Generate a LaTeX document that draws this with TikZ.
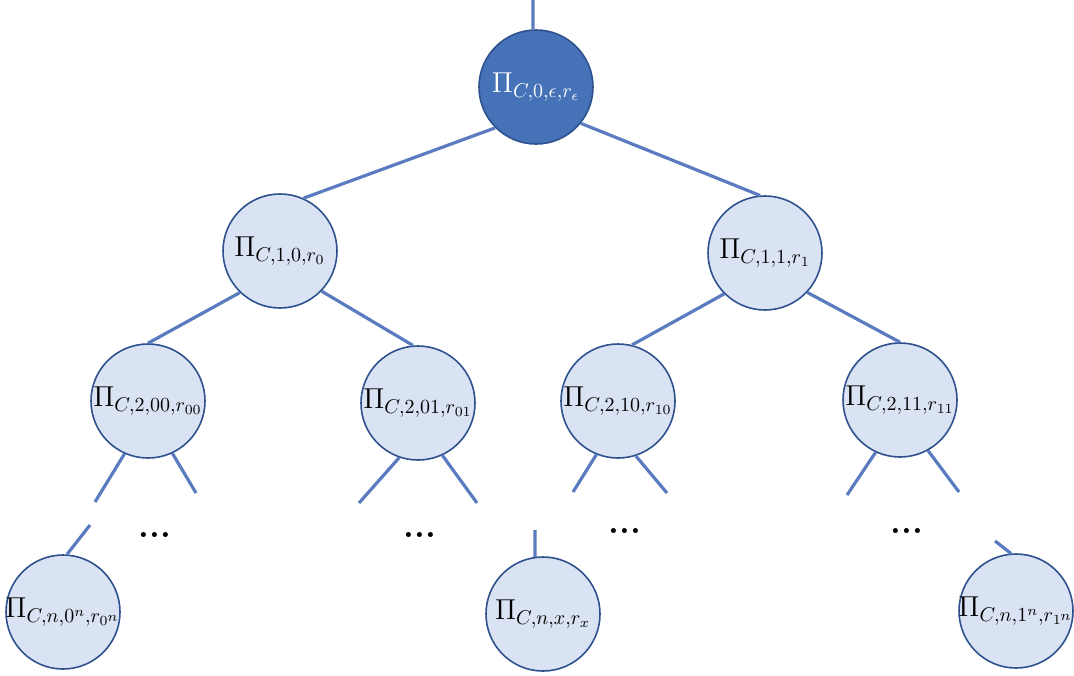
\documentclass[tikz,border=0pt]{standalone}
\usepackage{amsmath, amsfonts, amssymb}
\usepackage{xcolor}
\usepackage{tikz}

\definecolor{rootblue}{HTML}{4672B8}
\definecolor{nodefill}{HTML}{DAE3F3}
\definecolor{nodeline}{HTML}{2F528F}
\definecolor{edgeblue}{HTML}{5B7BC0}

\begin{document}
\begin{tikzpicture}[x=0.5pt, y=-0.5pt,
	party/.style={circle, draw=nodeline, line width=0.8pt, fill=nodefill, minimum size=57pt, inner sep=0pt},
	rootparty/.style={party, fill=rootblue},
	edge/.style={color=edgeblue, line width=1.6pt},
	lbl/.style={font=\Large, inner sep=0pt},
	dots/.style={font=\LARGE\bfseries, inner sep=0pt}]

\useasboundingbox (0,0) rectangle (1074,675);

% root
\node[rootparty, label={[lbl, text=white]center:$\Pi_{C,0,\epsilon,r_\epsilon}$}] (root) at (536,87) {};

% level 1
\node[party, label={[lbl]center:$\Pi_{C,1,0,r_0}$}] (n0) at (280,251) {};
\node[party, label={[lbl]center:$\Pi_{C,1,1,r_1}$}] (n1) at (765,253) {};

% level 2
\node[party, label={[lbl]center:$\Pi_{C,2,00,r_{00}}$}] (n00) at (148,401) {};
\node[party, label={[lbl]center:$\Pi_{C,2,01,r_{01}}$}] (n01) at (418,403) {};
\node[party, label={[lbl]center:$\Pi_{C,2,10,r_{10}}$}] (n10) at (618,401) {};
\node[party, label={[lbl]center:$\Pi_{C,2,11,r_{11}}$}] (n11) at (900,400) {};

% level n
\node[party, label={[lbl]center:$\Pi_{C,n,0^n,r_{0^n}}$}] (nfirst) at (63,612) {};
\node[party, label={[lbl]center:$\Pi_{C,n,x,r_x}$}] (nx) at (543,614) {};
\node[party, label={[lbl]center:$\Pi_{C,n,1^n,r_{1^n}}$}] (nlast) at (1016,611) {};

% dots
\node[dots] (d00) at (155,535) {...};
\node[dots] (d01) at (420,535) {...};
\node[dots] (d10) at (625,531) {...};
\node[dots] (d11) at (907,531) {...};

% edges between parties
\draw[edge] (root.225)--(n0.66);
\draw[edge] (root.321)--(n1.95);
\draw[edge] (n0.226)--(n00.90);
\draw[edge] (n0.316)--(n01.95);
\draw[edge] (n1.225)--(n10.76);
\draw[edge] (n1.317)--(n11.90);

% loose ends
\coordinate (top) at (533,0);
\coordinate (s00a) at (95,502);
\coordinate (s00b) at (196,493);
\coordinate (s01a) at (359,503);
\coordinate (s01b) at (477,503);
\coordinate (s10a) at (573,492);
\coordinate (s10b) at (667,493);
\coordinate (s11a) at (847,495);
\coordinate (s11b) at (959,492);
\coordinate (sfirst) at (90,525);
\coordinate (sx) at (535,530);
\coordinate (slast) at (995,541);

\draw[edge] (root.93)--(top);
\draw[edge] (n00.246)--(s00a);
\draw[edge] (n00.295)--(s00b);
\draw[edge] (n01.251)--(s01a);
\draw[edge] (n01.295)--(s01b);
\draw[edge] (n10.248)--(s10a);
\draw[edge] (n10.288)--(s10b);
\draw[edge] (n11.245)--(s11a);
\draw[edge] (n11.299)--(s11b);
\draw[edge] (nfirst.86)--(sfirst);
\draw[edge] (nx.98)--(sx);
\draw[edge] (nlast.95)--(slast);

\end{tikzpicture}
\end{document}
